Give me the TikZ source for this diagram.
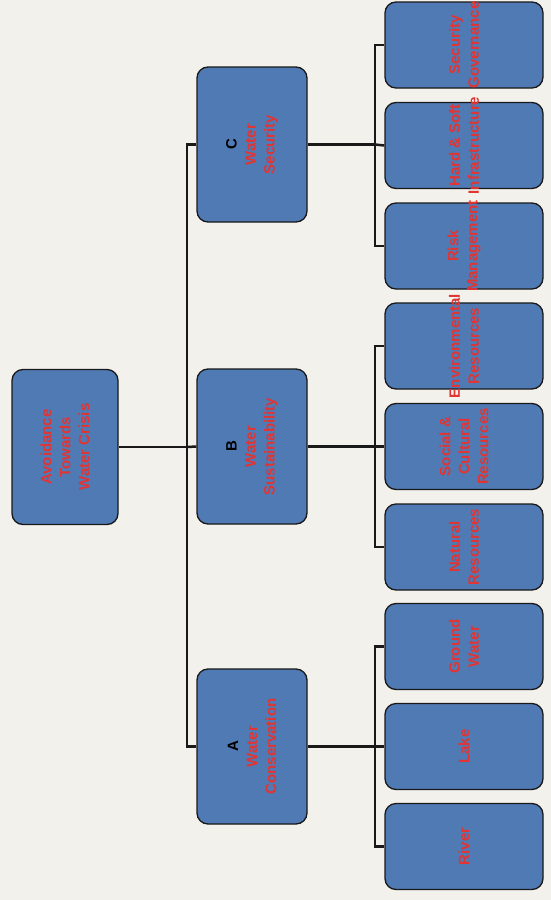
\documentclass[tikz,border=0pt]{standalone}
\usepackage{fontspec}
\setmainfont{Liberation Sans}
\definecolor{boxblue}{RGB}{80,122,180}
\definecolor{txtred}{RGB}{226,52,50}
\definecolor{paper}{RGB}{242,241,236}
\begin{document}
\begin{tikzpicture}[x=1pt,y=-1pt,
  box/.style={draw=black!90, line width=1.3pt, rounded corners=11pt, fill=boxblue, inner sep=0pt},
  rootbox/.style={box, minimum width=106pt, minimum height=155pt},
  midbox/.style={box, minimum width=110pt, minimum height=155pt},
  leafbox/.style={box, minimum width=158pt, minimum height=86pt},
  lbl/.style={rotate=90, align=center, text=txtred, font=\fontsize{15}{19}\selectfont\bfseries, inner sep=0pt},
  conn/.style={draw=black!90, line width=2.5pt, line join=miter}]
\fill[paper] (0,0) rectangle (551,900);
\useasboundingbox (0,0) rectangle (551,900);
% connectors (drawn first, under the boxes)
\coordinate (j0) at (187,447);
\coordinate (jC) at (375,144.5);
\coordinate (jB) at (375,446.5);
\coordinate (jA) at (375,746.5);
% root
\node[rootbox] (root) at (65,447) {};
% level 2
\node[midbox] (C) at (252,144.5) {};
\node[midbox] (B) at (252,446.5) {};
\node[midbox] (A) at (252,746.5) {};
% leaves
\node[leafbox] (c1) at (464,45) {};
\node[leafbox] (c2) at (464,145.5) {};
\node[leafbox] (c3) at (464,246) {};
\node[leafbox] (b1) at (464,346) {};
\node[leafbox] (b2) at (464,446.5) {};
\node[leafbox] (b3) at (464,547) {};
\node[leafbox] (a1) at (464,646.5) {};
\node[leafbox] (a2) at (464,746.5) {};
\node[leafbox] (a3) at (464,846.5) {};
\draw[conn] (root.east) -- (j0);
\draw[conn] (C.west) -| (j0) |- (A.west);
\draw[conn] (j0) -- (B.west);
\draw[conn] (C.east) -- (jC);
\draw[conn] (B.east) -- (jB);
\draw[conn] (A.east) -- (jA);
\draw[conn] (c1.west) -| (jC) |- (c3.west);
\draw[conn] (jC) -- (c2.west);
\draw[conn] (b1.west) -| (jB) |- (b3.west);
\draw[conn] (jB) -- (b2.west);
\draw[conn] (a1.west) -| (jA) |- (a3.west);
\draw[conn] (jA) -- (a2.west);
% texts
\node[lbl] (troot) at (root.center) {Avoidance\\Towards\\Water Crisis};
\node[lbl] (tC) at (C.center) {\textcolor{black}{C}\\Water\\Security};
\node[lbl] (tB) at (B.center) {\textcolor{black}{B}\\Water\\Sustainability};
\node[lbl] (tA) at (A.center) {\textcolor{black}{A}\\Water\\Conservation};
\node[lbl] (tc1) at (c1.center) {Security\\Governance};
\node[lbl] (tc2) at (c2.center) {Hard \& Soft\\Infrastructure};
\node[lbl] (tc3) at (c3.center) {Risk\\Management};
\node[lbl] (tb1) at (b1.center) {Environmental\\Resources};
\node[lbl] (tb2) at (b2.center) {Social \&\\Cultural\\Resources};
\node[lbl] (tb3) at (b3.center) {Natural\\Resources};
\node[lbl] (ta1) at (a1.center) {Ground\\Water};
\node[lbl] (ta2) at (a2.center) {Lake};
\node[lbl] (ta3) at (a3.center) {River};
\end{tikzpicture}
\end{document}
